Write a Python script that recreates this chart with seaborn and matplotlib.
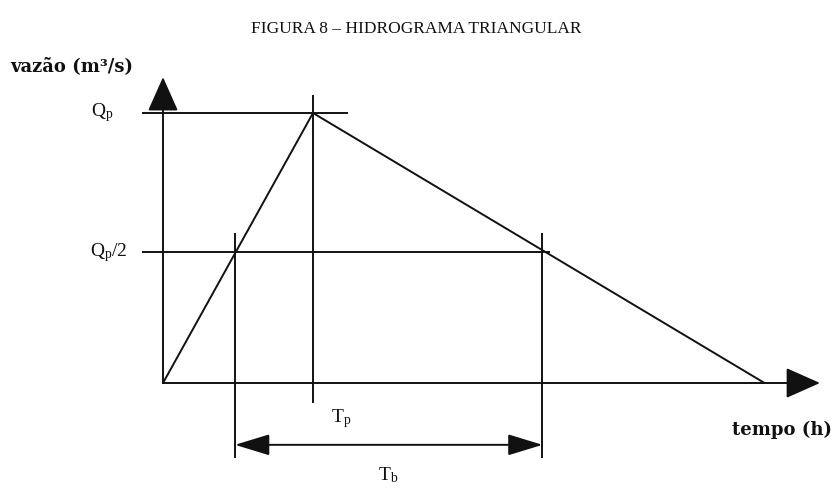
import matplotlib

matplotlib.use("Agg")
import matplotlib.pyplot as plt
import pandas as pd
import seaborn as sns

# triangular hydrograph (time in units of Tp, discharge in units of Qp)
tempo = [0.0, 1.0, 4.01]
vazao = [0.0, 1.0, 0.0]

# guide lines
pico = 1.0
meio_pico = 0.485
t_meio = [0.48, 2.53]
t_pico = 1.0

sns.set_theme(style="white")
plt.rcParams["font.family"] = ["Liberation Serif", "DejaVu Serif"]
plt.rcParams["mathtext.fontset"] = "custom"
plt.rcParams["mathtext.rm"] = "Liberation Serif"
plt.rcParams["mathtext.it"] = "Liberation Serif"

fig = plt.figure(figsize=(8.33, 4.94), dpi=100)
ax = fig.add_axes([0, 0, 1, 1])
ax.set_xlim(-163 / 150, 670 / 150)
ax.set_ylim(-111 / 270, 383 / 270)
ax.axis("off")

lw = 1.4
ink = "#111111"

df = pd.DataFrame({"tempo": tempo, "vazao": vazao})
sns.lineplot(data=df, x="tempo", y="vazao", color=ink, lw=lw, ax=ax, sort=False)

# axes with arrow heads
head = "-|>,head_length=1.8,head_width=0.8"
ax.annotate("", xy=(4.38, 0), xytext=(0, 0),
            arrowprops=dict(arrowstyle=head, color=ink, lw=lw, shrinkA=0, shrinkB=0))
ax.annotate("", xy=(0, 1.133), xytext=(0, 0),
            arrowprops=dict(arrowstyle=head, color=ink, lw=lw, shrinkA=0, shrinkB=0))

# horizontal guides
ax.hlines(pico, -0.14, 1.233, color=ink, lw=lw)
ax.hlines(meio_pico, -0.14, 2.58, color=ink, lw=lw)

# vertical guides
ax.vlines(t_meio, -0.278, 0.556, color=ink, lw=lw)
ax.vlines(t_pico, -0.074, 1.067, color=ink, lw=lw)

# base-time double arrow
ax.annotate("", xy=(t_meio[1], -0.229), xytext=(t_meio[0], -0.229),
            arrowprops=dict(arrowstyle="<|-|>,head_length=1.8,head_width=0.55",
                            color=ink, lw=lw, shrinkA=0, shrinkB=0))

# labels
fs = 14
ax.text(-0.333, pico, r"$\mathrm{Q_p}$", ha="right", va="center", fontsize=fs, color=ink)
ax.text(-0.233, meio_pico, r"$\mathrm{Q_p/2}$", ha="right", va="center", fontsize=fs, color=ink)
ax.text(1.19, -0.13, r"$\mathrm{T_p}$", ha="center", va="center", fontsize=fs, color=ink)
ax.text(1.5, -0.34, r"$\mathrm{T_b}$", ha="center", va="center", fontsize=fs, color=ink)

bold = dict(fontsize=13, fontweight="bold", color=ink, family=["DejaVu Serif"])
fig.text(10 / 833, 1 - 66 / 494, "vazão (m³/s)", ha="left", va="center", **bold)
fig.text(832 / 833, 1 - 430 / 494, "tempo (h)", ha="right", va="center", **bold)
fig.text(416 / 833, 1 - 29 / 494, "FIGURA 8 – HIDROGRAMA TRIANGULAR", ha="center",
         va="center", fontsize=12.5, color=ink)

fig.savefig("out.png", dpi=100, facecolor="white")
plt.close(fig)
